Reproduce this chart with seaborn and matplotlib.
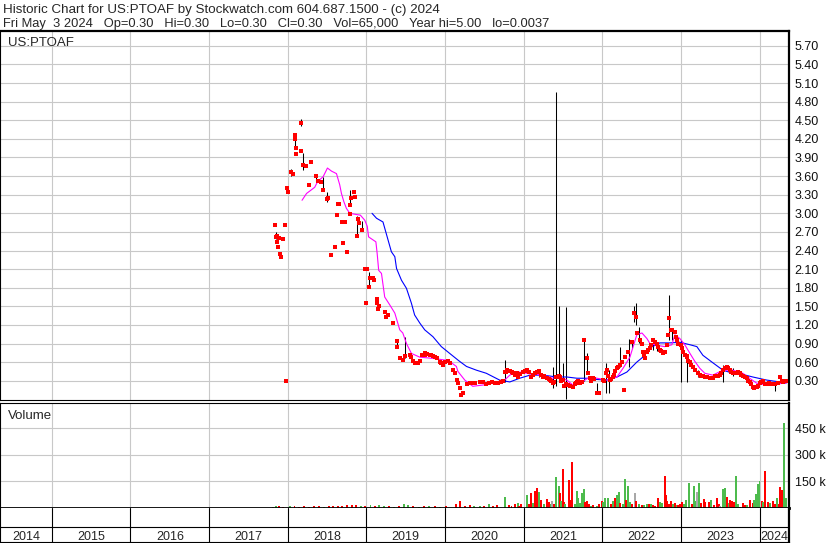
import matplotlib
matplotlib.use("Agg")
import matplotlib.pyplot as plt
import seaborn as sns
import numpy as np
import pandas as pd

# ---- data ----
close_dates = [
    "2017-11-03", "2017-11-08", "2017-11-10", "2017-11-14", "2017-11-17", "2017-11-21",
    "2017-11-24", "2017-11-28", "2017-12-10", "2017-12-20", "2017-12-22", "2017-12-30",
    "2018-01-02", "2018-01-15", "2018-01-23", "2018-02-02", "2018-02-05", "2018-02-08",
    "2018-02-10", "2018-03-01", "2018-03-05", "2018-03-12", "2018-03-25", "2018-04-08",
    "2018-04-20", "2018-05-11", "2018-05-20", "2018-06-03", "2018-06-12", "2018-07-01",
    "2018-07-05", "2018-07-19", "2018-08-07", "2018-08-16", "2018-08-21", "2018-08-25",
    "2018-09-08", "2018-09-13", "2018-09-22", "2018-10-02", "2018-10-16", "2018-10-17",
    "2018-10-22", "2018-11-03", "2018-11-07", "2018-11-16", "2018-11-22", "2018-11-26",
    "2018-12-10", "2018-12-27", "2018-12-28", "2019-01-03", "2019-01-14", "2019-01-18",
    "2019-02-01", "2019-02-04", "2019-02-17", "2019-02-18", "2019-02-22", "2019-02-27",
    "2019-03-27", "2019-04-02", "2019-04-12", "2019-05-05", "2019-05-21", "2019-05-25",
    "2019-06-05", "2019-06-20", "2019-07-01", "2019-07-21", "2019-07-29", "2019-08-04",
    "2019-08-15", "2019-08-29", "2019-09-06", "2019-09-15", "2019-09-29", "2019-10-02",
    "2019-10-10", "2019-10-22", "2019-10-30", "2019-11-05", "2019-11-15", "2019-11-25",
    "2019-12-08", "2019-12-14", "2019-12-21", "2020-01-03", "2020-01-14", "2020-01-23",
    "2020-02-06", "2020-02-15", "2020-02-25", "2020-03-01", "2020-03-10", "2020-03-17",
    "2020-03-24", "2020-04-10", "2020-04-25", "2020-05-05", "2020-05-20", "2020-06-10",
    "2020-06-25", "2020-07-11", "2020-07-25", "2020-08-05", "2020-08-19", "2020-09-05",
    "2020-09-19", "2020-09-28", "2020-10-04", "2020-10-09", "2020-10-15", "2020-10-20",
    "2020-10-28", "2020-11-05", "2020-11-11", "2020-11-20", "2020-11-29", "2020-12-04",
    "2020-12-15", "2020-12-29", "2021-01-05", "2021-01-16", "2021-01-25", "2021-02-03",
    "2021-02-12", "2021-02-20", "2021-03-03", "2021-03-12", "2021-03-20", "2021-03-31",
    "2021-04-05", "2021-04-19", "2021-04-28", "2021-05-02", "2021-05-08", "2021-05-16",
    "2021-05-22", "2021-05-30", "2021-06-12", "2021-06-18", "2021-06-25", "2021-07-02",
    "2021-07-08", "2021-07-17", "2021-07-25", "2021-08-02", "2021-08-17", "2021-08-25",
    "2021-08-30", "2021-09-05", "2021-09-12", "2021-09-19", "2021-09-28", "2021-10-09",
    "2021-10-21", "2021-10-26", "2021-11-04", "2021-11-10", "2021-11-18", "2021-11-25",
    "2021-12-07", "2021-12-16", "2022-01-04", "2022-01-10", "2022-01-18", "2022-01-22",
    "2022-01-28", "2022-02-05", "2022-02-12", "2022-02-19", "2022-02-26", "2022-03-03",
    "2022-03-10", "2022-03-17", "2022-03-24", "2022-04-02", "2022-04-11", "2022-04-16",
    "2022-04-30", "2022-05-18", "2022-05-28", "2022-06-06", "2022-06-10", "2022-06-24",
    "2022-07-03", "2022-07-08", "2022-07-13", "2022-07-18", "2022-07-27", "2022-08-01",
    "2022-08-10", "2022-08-17", "2022-08-24", "2022-09-02", "2022-09-11", "2022-09-18",
    "2022-09-25", "2022-10-02", "2022-10-10", "2022-10-19", "2022-10-28", "2022-11-02",
    "2022-11-07", "2022-11-15", "2022-11-20", "2022-12-04", "2022-12-08", "2022-12-13",
    "2022-12-18", "2023-01-01", "2023-01-05", "2023-01-10", "2023-01-20", "2023-01-27",
    "2023-01-29", "2023-02-05", "2023-02-12", "2023-02-19", "2023-02-26", "2023-03-07",
    "2023-03-21", "2023-03-30", "2023-04-05", "2023-04-13", "2023-04-22", "2023-05-01",
    "2023-05-15", "2023-05-29", "2023-06-08", "2023-06-20", "2023-07-01", "2023-07-08",
    "2023-07-15", "2023-07-24", "2023-08-02", "2023-08-09", "2023-08-16", "2023-08-23",
    "2023-08-30", "2023-09-05", "2023-09-18", "2023-09-25", "2023-10-02", "2023-10-09",
    "2023-10-16", "2023-10-25", "2023-11-03", "2023-11-10", "2023-11-16", "2023-11-24",
    "2023-12-01", "2023-12-08", "2023-12-19", "2023-12-26", "2024-01-03", "2024-01-10",
    "2024-01-18", "2024-01-26", "2024-02-04", "2024-02-12", "2024-02-20", "2024-03-01",
    "2024-03-13", "2024-03-25", "2024-04-07", "2024-04-14", "2024-04-21", "2024-04-28",
    "2024-05-03",
]
close_prices = [
    2.81, 2.62, 2.53, 2.63, 2.46, 2.60, 2.34, 2.29, 2.58, 2.81, 0.30, 3.41,
    3.34, 3.67, 3.63, 4.27, 4.20, 4.06, 3.96, 4.46, 4.01, 3.78, 3.77, 3.46,
    3.82, 3.60, 3.52, 3.50, 3.38, 3.23, 3.25, 2.32, 2.45, 2.97, 3.15, 3.15,
    2.86, 2.52, 2.86, 2.37, 2.99, 3.13, 3.25, 3.34, 3.26, 2.63, 2.90, 2.84,
    2.73, 2.10, 1.56, 2.10, 1.81, 1.96, 1.95, 1.92, 1.55, 1.61, 1.45, 1.50,
    1.41, 1.33, 1.36, 1.23, 0.94, 0.85, 0.66, 0.63, 0.70, 0.71, 0.69, 0.61,
    0.58, 0.58, 0.62, 0.72, 0.71, 0.74, 0.73, 0.71, 0.72, 0.70, 0.68, 0.66,
    0.60, 0.58, 0.55, 0.60, 0.61, 0.58, 0.47, 0.42, 0.31, 0.26, 0.18, 0.07,
    0.10, 0.24, 0.26, 0.26, 0.27, 0.28, 0.28, 0.25, 0.27, 0.28, 0.27, 0.27,
    0.28, 0.30, 0.44, 0.44, 0.48, 0.45, 0.46, 0.44, 0.42, 0.40, 0.42, 0.36,
    0.41, 0.44, 0.45, 0.47, 0.44, 0.36, 0.40, 0.42, 0.44, 0.45, 0.40, 0.36,
    0.38, 0.34, 0.33, 0.31, 0.30, 0.26, 0.28, 0.36, 0.38, 0.36, 0.30, 0.31,
    0.22, 0.25, 0.23, 0.22, 0.20, 0.24, 0.27, 0.28, 0.30, 0.26, 0.28, 0.95,
    0.66, 0.42, 0.34, 0.30, 0.34, 0.32, 0.10, 0.10, 0.31, 0.30, 0.42, 0.47,
    0.38, 0.31, 0.33, 0.36, 0.40, 0.45, 0.51, 0.52, 0.55, 0.60, 0.15, 0.68,
    0.76, 0.92, 1.39, 1.33, 1.07, 0.95, 0.90, 0.77, 0.72, 0.66, 0.76, 0.80,
    0.83, 0.88, 0.95, 0.93, 0.90, 0.84, 0.79, 0.78, 0.75, 0.76, 0.88, 1.04,
    1.31, 1.11, 1.12, 1.09, 1.00, 0.95, 0.90, 0.87, 0.82, 0.76, 0.72, 0.70,
    0.68, 0.62, 0.60, 0.55, 0.52, 0.47, 0.42, 0.40, 0.38, 0.37, 0.36, 0.36,
    0.35, 0.35, 0.37, 0.38, 0.39, 0.42, 0.47, 0.50, 0.52, 0.50, 0.47, 0.44,
    0.42, 0.42, 0.43, 0.44, 0.42, 0.40, 0.38, 0.36, 0.34, 0.30, 0.28, 0.24,
    0.20, 0.19, 0.20, 0.22, 0.26, 0.28, 0.30, 0.25, 0.24, 0.26, 0.25, 0.25,
    0.25, 0.27, 0.36, 0.30, 0.28, 0.29, 0.30,
]

# daily high-low ranges (black bars)
range_dates = [
    "2017-11-08", "2018-01-15", "2018-02-02", "2018-03-01", "2018-03-12", "2018-05-11",
    "2018-06-12", "2018-07-01", "2018-09-13", "2018-10-17", "2018-11-16", "2018-12-10",
    "2019-01-14", "2019-02-18", "2019-05-21", "2019-07-01", "2020-10-04", "2021-03-12",
    "2021-05-16", "2021-05-30", "2021-06-12", "2021-07-02", "2021-07-17", "2021-10-09",
    "2021-10-21", "2021-12-07", "2022-01-18", "2022-02-01", "2022-03-24", "2022-05-05",
    "2022-05-18", "2022-05-28", "2022-06-06", "2022-06-20", "2022-08-24", "2022-09-11",
    "2022-11-07", "2022-11-20", "2023-01-01", "2023-01-27", "2023-03-21", "2023-07-15",
    "2023-08-30", "2024-03-13", "2024-04-07",
]
range_low = [
    2.58, 3.60, 4.06, 4.40, 3.70, 3.50, 3.36, 3.18, 2.50, 3.13, 2.63, 2.73,
    1.81, 1.45, 0.85, 0.66, 0.28, 0.36, 0.18, 0.22, 0.30, 0.30, 0.00, 0.30,
    0.42, 0.10, 0.10, 0.10, 0.52, 0.52, 0.83, 1.25, 1.20, 0.91, 0.80, 0.78,
    0.95, 0.95, 0.28, 0.28, 0.36, 0.28, 0.38, 0.14, 0.28,
]
range_high = [
    2.70, 3.72, 4.29, 4.52, 3.98, 3.62, 3.58, 3.35, 2.56, 3.37, 2.95, 2.88,
    2.06, 1.61, 0.98, 1.00, 0.63, 0.47, 0.52, 4.96, 1.51, 0.58, 1.49, 0.97,
    0.75, 0.26, 0.58, 0.47, 0.84, 0.97, 0.95, 1.50, 1.55, 1.16, 0.98, 0.93,
    1.68, 1.15, 0.95, 0.72, 0.48, 0.55, 0.50, 0.28, 0.40,
]

# short moving average (magenta)
ma_short_dates = [
    "2018-03-08", "2018-03-29", "2018-04-21", "2018-05-06", "2018-05-19", "2018-06-14",
    "2018-07-04", "2018-07-23", "2018-08-15", "2018-08-30", "2018-09-07", "2018-09-18",
    "2018-09-30", "2018-10-16", "2018-11-16", "2018-12-04", "2018-12-24", "2019-01-05",
    "2019-01-11", "2019-02-01", "2019-02-14", "2019-02-20", "2019-02-27", "2019-03-12",
    "2019-03-27", "2019-04-20", "2019-05-13", "2019-06-05", "2019-06-19", "2019-07-06",
    "2019-07-29", "2019-09-06", "2019-11-06", "2020-01-08", "2020-01-23", "2020-02-23",
    "2020-03-01", "2020-04-02", "2020-05-09", "2020-06-24", "2020-08-10", "2020-09-25",
    "2020-10-28", "2020-11-11", "2020-12-13", "2021-01-30", "2021-03-31", "2021-05-16",
    "2021-06-18", "2021-07-20", "2021-08-17", "2021-09-19", "2021-11-04", "2021-12-07",
    "2022-01-22", "2022-03-10", "2022-04-07", "2022-05-09", "2022-06-10", "2022-07-04",
    "2022-07-27", "2022-08-10", "2022-09-11", "2022-10-19", "2022-11-20", "2022-12-04",
    "2022-12-27", "2023-01-19", "2023-02-12", "2023-03-07", "2023-03-30", "2023-04-22",
    "2023-05-29", "2023-07-15", "2023-08-30", "2023-10-16", "2023-11-16", "2023-12-19",
    "2024-02-04", "2024-03-22", "2024-05-03",
]
ma_short = [
    3.21, 3.32, 3.38, 3.42, 3.51, 3.59, 3.73, 3.68, 3.64, 3.46, 3.32, 3.19,
    3.08, 3.00, 2.98, 2.97, 2.89, 2.79, 2.62, 2.57, 2.54, 2.35, 2.08, 2.03,
    1.65, 1.52, 1.39, 1.12, 1.07, 0.90, 0.74, 0.68, 0.66, 0.63, 0.61, 0.53,
    0.45, 0.31, 0.21, 0.23, 0.26, 0.28, 0.39, 0.42, 0.44, 0.41, 0.39, 0.34,
    0.36, 0.31, 0.23, 0.26, 0.36, 0.34, 0.31, 0.36, 0.50, 0.68, 1.04, 1.07,
    0.98, 0.90, 0.87, 0.85, 0.88, 1.04, 0.98, 0.88, 0.74, 0.61, 0.50, 0.42,
    0.39, 0.47, 0.47, 0.42, 0.34, 0.26, 0.23, 0.25, 0.26,
]

# long moving average (blue)
ma_long_dates = [
    "2019-01-27", "2019-02-17", "2019-03-04", "2019-03-19", "2019-04-01", "2019-04-27",
    "2019-05-13", "2019-05-21", "2019-06-13", "2019-07-06", "2019-07-29", "2019-08-13",
    "2019-09-06", "2019-09-29", "2019-11-06", "2019-12-15", "2020-01-23", "2020-03-06",
    "2020-04-10", "2020-05-26", "2020-07-11", "2020-09-11", "2020-10-28", "2020-12-13",
    "2021-01-30", "2021-03-31", "2021-06-04", "2021-07-20", "2021-09-05", "2021-10-21",
    "2021-12-07", "2022-01-22", "2022-03-10", "2022-04-25", "2022-06-10", "2022-07-08",
    "2022-08-10", "2022-09-25", "2022-11-11", "2022-12-27", "2023-02-12", "2023-03-16",
    "2023-04-13", "2023-05-29", "2023-07-15", "2023-08-30", "2023-10-16", "2023-12-01",
    "2024-02-04", "2024-04-05", "2024-05-03",
]
ma_long = [
    3.00, 2.92, 2.89, 2.86, 2.70, 2.38, 2.30, 2.11, 1.92, 1.79, 1.55, 1.36,
    1.23, 1.12, 1.01, 0.85, 0.74, 0.62, 0.53, 0.47, 0.42, 0.31, 0.28, 0.34,
    0.39, 0.39, 0.36, 0.36, 0.34, 0.34, 0.32, 0.31, 0.36, 0.44, 0.60, 0.68,
    0.83, 0.91, 0.91, 0.92, 0.88, 0.85, 0.71, 0.59, 0.47, 0.42, 0.40, 0.36,
    0.31, 0.28, 0.26,
]

# volume bars: date, thousands of shares, direction (u=up, d=down, f=flat)
vol_dates = [
    "2017-10-25", "2017-11-08", "2017-11-20", "2017-12-10", "2018-01-10", "2018-02-01",
    "2018-02-20", "2018-03-15", "2018-04-10", "2018-05-01", "2018-05-25", "2018-06-20",
    "2018-07-10", "2018-08-01", "2018-08-20", "2018-09-10", "2018-10-05", "2018-10-25",
    "2018-11-15", "2018-12-05", "2018-12-25", "2019-01-20", "2019-02-10", "2019-03-01",
    "2019-03-25", "2019-04-15", "2019-05-10", "2019-06-01", "2019-06-25", "2019-07-15",
    "2019-08-05", "2019-09-01", "2019-09-25", "2019-10-20", "2019-11-15", "2019-12-10",
    "2020-01-05", "2020-02-20", "2020-03-10", "2020-04-05", "2020-04-25", "2020-05-15",
    "2020-06-10", "2020-07-01", "2020-07-25", "2020-08-10", "2020-08-30", "2020-10-04",
    "2020-10-25", "2020-11-05", "2020-11-20", "2020-12-04", "2020-12-10", "2020-12-20",
    "2021-01-16", "2021-01-25", "2021-02-03", "2021-02-12", "2021-02-20", "2021-03-03",
    "2021-03-12", "2021-03-20", "2021-04-05", "2021-04-19", "2021-04-28", "2021-05-05",
    "2021-05-12", "2021-05-22", "2021-05-30", "2021-06-13", "2021-06-18", "2021-06-25",
    "2021-07-02", "2021-07-05", "2021-07-11", "2021-07-30", "2021-08-02", "2021-08-13",
    "2021-08-25", "2021-09-05", "2021-09-12", "2021-09-19", "2021-09-28", "2021-10-08",
    "2021-10-14", "2021-10-21", "2021-10-30", "2021-11-08", "2021-11-20", "2021-12-05",
    "2021-12-18", "2022-01-01", "2022-01-06", "2022-01-13", "2022-01-27", "2022-02-10",
    "2022-02-18", "2022-02-28", "2022-03-10", "2022-03-19", "2022-03-24", "2022-04-05",
    "2022-04-16", "2022-04-22", "2022-04-30", "2022-05-10", "2022-05-20", "2022-06-01",
    "2022-06-06", "2022-06-20", "2022-07-05", "2022-07-15", "2022-07-27", "2022-08-05",
    "2022-08-15", "2022-08-24", "2022-09-02", "2022-09-16", "2022-09-25", "2022-10-05",
    "2022-10-19", "2022-10-23", "2022-10-30", "2022-11-05", "2022-11-15", "2022-11-25",
    "2022-12-05", "2022-12-13", "2022-12-20", "2022-12-27", "2023-01-05", "2023-01-15",
    "2023-01-24", "2023-02-07", "2023-02-20", "2023-03-02", "2023-03-08", "2023-03-16",
    "2023-03-25", "2023-04-05", "2023-04-18", "2023-04-25", "2023-05-11", "2023-05-20",
    "2023-06-05", "2023-06-17", "2023-06-25", "2023-07-01", "2023-07-15", "2023-07-24",
    "2023-08-02", "2023-08-10", "2023-08-18", "2023-08-25", "2023-09-05", "2023-09-14",
    "2023-09-22", "2023-10-02", "2023-10-15", "2023-10-25", "2023-11-05", "2023-11-16",
    "2023-12-01", "2023-12-05", "2023-12-14", "2023-12-24", "2024-01-01", "2024-01-12",
    "2024-01-18", "2024-01-26", "2024-02-09", "2024-02-20", "2024-03-03", "2024-03-12",
    "2024-03-22", "2024-04-01", "2024-04-05", "2024-04-15", "2024-04-24", "2024-05-03",
]
vol_thousands = [
    8, 12, 10, 8, 10, 12, 8, 10, 8, 10, 12, 8,
    10, 12, 10, 12, 15, 18, 15, 12, 10, 15, 10, 15,
    12, 10, 8, 12, 25, 15, 10, 8, 12, 10, 12, 8,
    10, 22, 38, 14, 15, 10, 12, 10, 22, 12, 15, 62,
    15, 12, 20, 28, 12, 20, 75, 25, 87, 30, 98, 115,
    92, 45, 20, 52, 35, 25, 40, 20, 173, 127, 87, 40,
    219, 35, 25, 156, 45, 260, 25, 98, 55, 30, 87, 110,
    35, 40, 25, 12, 15, 10, 20, 40, 35, 58, 58, 20,
    40, 58, 75, 92, 30, 25, 162, 45, 127, 35, 20, 87,
    40, 25, 18, 15, 20, 25, 20, 15, 10, 58, 35, 30,
    179, 75, 40, 25, 38, 20, 28, 15, 15, 23, 35, 20,
    45, 144, 25, 127, 40, 92, 144, 30, 52, 35, 35, 45,
    15, 58, 25, 10, 110, 115, 65, 30, 45, 37, 35, 179,
    20, 8, 28, 18, 15, 45, 30, 45, 82, 138, 150, 40,
    35, 208, 35, 30, 40, 20, 58, 25, 121, 104, 479, 58,
]
vol_dir = [
    "u", "u", "d", "d", "u", "d", "d", "d", "d", "d", "d", "u",
    "d", "d", "d", "d", "d", "d", "d", "u", "d", "u", "d", "u",
    "u", "d", "u", "d", "u", "u", "d", "u", "d", "u", "d", "u",
    "d", "d", "d", "d", "d", "u", "u", "d", "u", "d", "d", "u",
    "d", "d", "d", "u", "d", "d", "u", "d", "d", "u", "d", "d",
    "u", "d", "u", "d", "d", "u", "f", "d", "u", "u", "d", "u",
    "d", "d", "u", "d", "d", "d", "u", "u", "u", "u", "u", "u",
    "d", "d", "d", "u", "d", "u", "d", "d", "u", "u", "u", "d",
    "u", "d", "u", "u", "d", "u", "u", "d", "u", "u", "d", "f",
    "d", "u", "d", "u", "u", "d", "u", "d", "d", "d", "u", "u",
    "d", "d", "d", "d", "d", "u", "d", "u", "d", "d", "d", "u",
    "u", "u", "d", "u", "u", "f", "u", "d", "d", "d", "d", "u",
    "d", "d", "d", "f", "u", "u", "d", "u", "d", "d", "d", "u",
    "u", "d", "d", "d", "u", "d", "d", "u", "u", "u", "u", "d",
    "u", "d", "d", "u", "d", "d", "u", "d", "d", "d", "u", "u",
]

years = list(range(2014, 2025))
vol_tick_labels = ["150 k", "300 k", "450 k"]

title_line1 = "Historic Chart for US:PTOAF by Stockwatch.com 604.687.1500 - (c) 2024"
title_line2 = ("Fri May  3 2024   Op=0.30   Hi=0.30   Lo=0.30   Cl=0.30   "
               "Vol=65,000   Year hi=5.00   lo=0.0037")

# ---- style ----
sns.set_theme(style="white")
plt.rcParams["font.family"] = ["Liberation Sans", "DejaVu Sans"]
plt.rcParams["font.size"] = 9

W, H = 830, 543
fig = plt.figure(figsize=(W / 100, H / 100), dpi=100)


def box(left, top, right, bottom):
    # pixel box -> figure fraction rect
    return [left / W, 1 - bottom / H, (right - left) / W, (bottom - top) / H]


x0 = pd.Timestamp("2014-05-05")
x1 = pd.Timestamp("2024-05-17")
year_starts = [pd.Timestamp(f"{y}-01-01") for y in years[1:]]
grid_color = "#c8c8c8"

closes = pd.DataFrame({"date": pd.to_datetime(close_dates), "close": close_prices})
short_df = pd.DataFrame({"date": pd.to_datetime(ma_short_dates), "ma": ma_short})
long_df = pd.DataFrame({"date": pd.to_datetime(ma_long_dates), "ma": ma_long})
vol = pd.DataFrame({"date": pd.to_datetime(vol_dates),
                    "shares": np.array(vol_thousands) * 1000,
                    "dir": vol_dir})

# ---- price panel ----
ax_p = fig.add_axes(box(0, 31, 789, 400))
for y in year_starts:
    ax_p.axvline(y, color=grid_color, lw=0.8, zorder=0)
ax_p.set_yticks(np.arange(0.30, 5.71, 0.30))
ax_p.yaxis.grid(True, color=grid_color, lw=0.8)

ax_p.vlines(pd.to_datetime(range_dates), range_low, range_high,
            color="black", lw=0.75, zorder=2)
sns.lineplot(data=long_df, x="date", y="ma", ax=ax_p, color="#0000ff",
             lw=0.8, zorder=3)
sns.lineplot(data=short_df, x="date", y="ma", ax=ax_p, color="#ff00ff",
             lw=0.8, zorder=3)
sns.scatterplot(data=closes, x="date", y="close", ax=ax_p, marker="s",
                s=6, color="#ff0000", linewidth=0, zorder=4)

ax_p.set_xlim(x0, x1)
ax_p.set_ylim(-0.011, 5.94)
ax_p.yaxis.tick_right()
ax_p.set_yticklabels([f"{v:.2f}" for v in ax_p.get_yticks()])
ax_p.tick_params(axis="y", length=0, pad=4, labelsize=9, labelcolor="#101010")
ax_p.set_xticks([])
ax_p.set_xlabel("")
ax_p.set_ylabel("")
ax_p.text(0.01, 0.985, "US:PTOAF", transform=ax_p.transAxes, fontsize=9.5,
          va="top", ha="left")

# ---- volume panel ----
ax_v = fig.add_axes(box(0, 403, 789, 508))
for y in year_starts:
    ax_v.axvline(y, color=grid_color, lw=0.8, zorder=0)
ax_v.set_yticks([150000, 300000, 450000])
ax_v.yaxis.grid(True, color=grid_color, lw=0.8)
bar_colors = vol["dir"].map({"u": "#4dbb4d", "d": "#ff0000", "f": "#a8a8a8"})
ax_v.bar(vol["date"], vol["shares"], width=9, color=bar_colors, lw=0, zorder=2)
ax_v.set_xlim(x0, x1)
ax_v.set_ylim(0, 594000)
ax_v.yaxis.tick_right()
ax_v.set_yticklabels(vol_tick_labels)
ax_v.tick_params(axis="y", length=0, pad=4, labelsize=9, labelcolor="#101010")
ax_v.set_xticks([])
ax_v.text(0.01, 0.93, "Volume", transform=ax_v.transAxes, fontsize=9.5,
          va="top", ha="left")

# ---- year strip ----
ax_y = fig.add_axes(box(0, 508, 789, 542))
ax_y.set_xlim(x0, x1)
ax_y.set_ylim(0, 1)
ax_y.axhline(0.44, color="black", lw=0.8)
for y in year_starts:
    ax_y.axvline(y, color="black", lw=0.8)
for yr in years:
    a = max(pd.Timestamp(f"{yr}-01-01"), x0)
    b = min(pd.Timestamp(f"{yr + 1}-01-01"), x1)
    mid = a + (b - a) / 2
    ax_y.text(mid, 0.06, str(yr), ha="center", va="baseline", fontsize=9)
ax_y.set_xticks([])
ax_y.set_yticks([])

# borders
for ax in (ax_p, ax_v, ax_y):
    for side in ax.spines.values():
        side.set_color("black")
        side.set_linewidth(0.8)
    ax.spines["right"].set_linewidth(1.6)
ax_p.spines["top"].set_linewidth(1.6)
ax_v.spines["bottom"].set_linewidth(2.0)
ax_y.spines["top"].set_visible(False)

fig.text(3 / W, 1 - 13 / H, title_line1, fontsize=9.6, va="baseline", ha="left")
fig.text(3 / W, 1 - 26.5 / H, title_line2, fontsize=9.3, va="baseline", ha="left")

fig.savefig("out.png", dpi=100)
